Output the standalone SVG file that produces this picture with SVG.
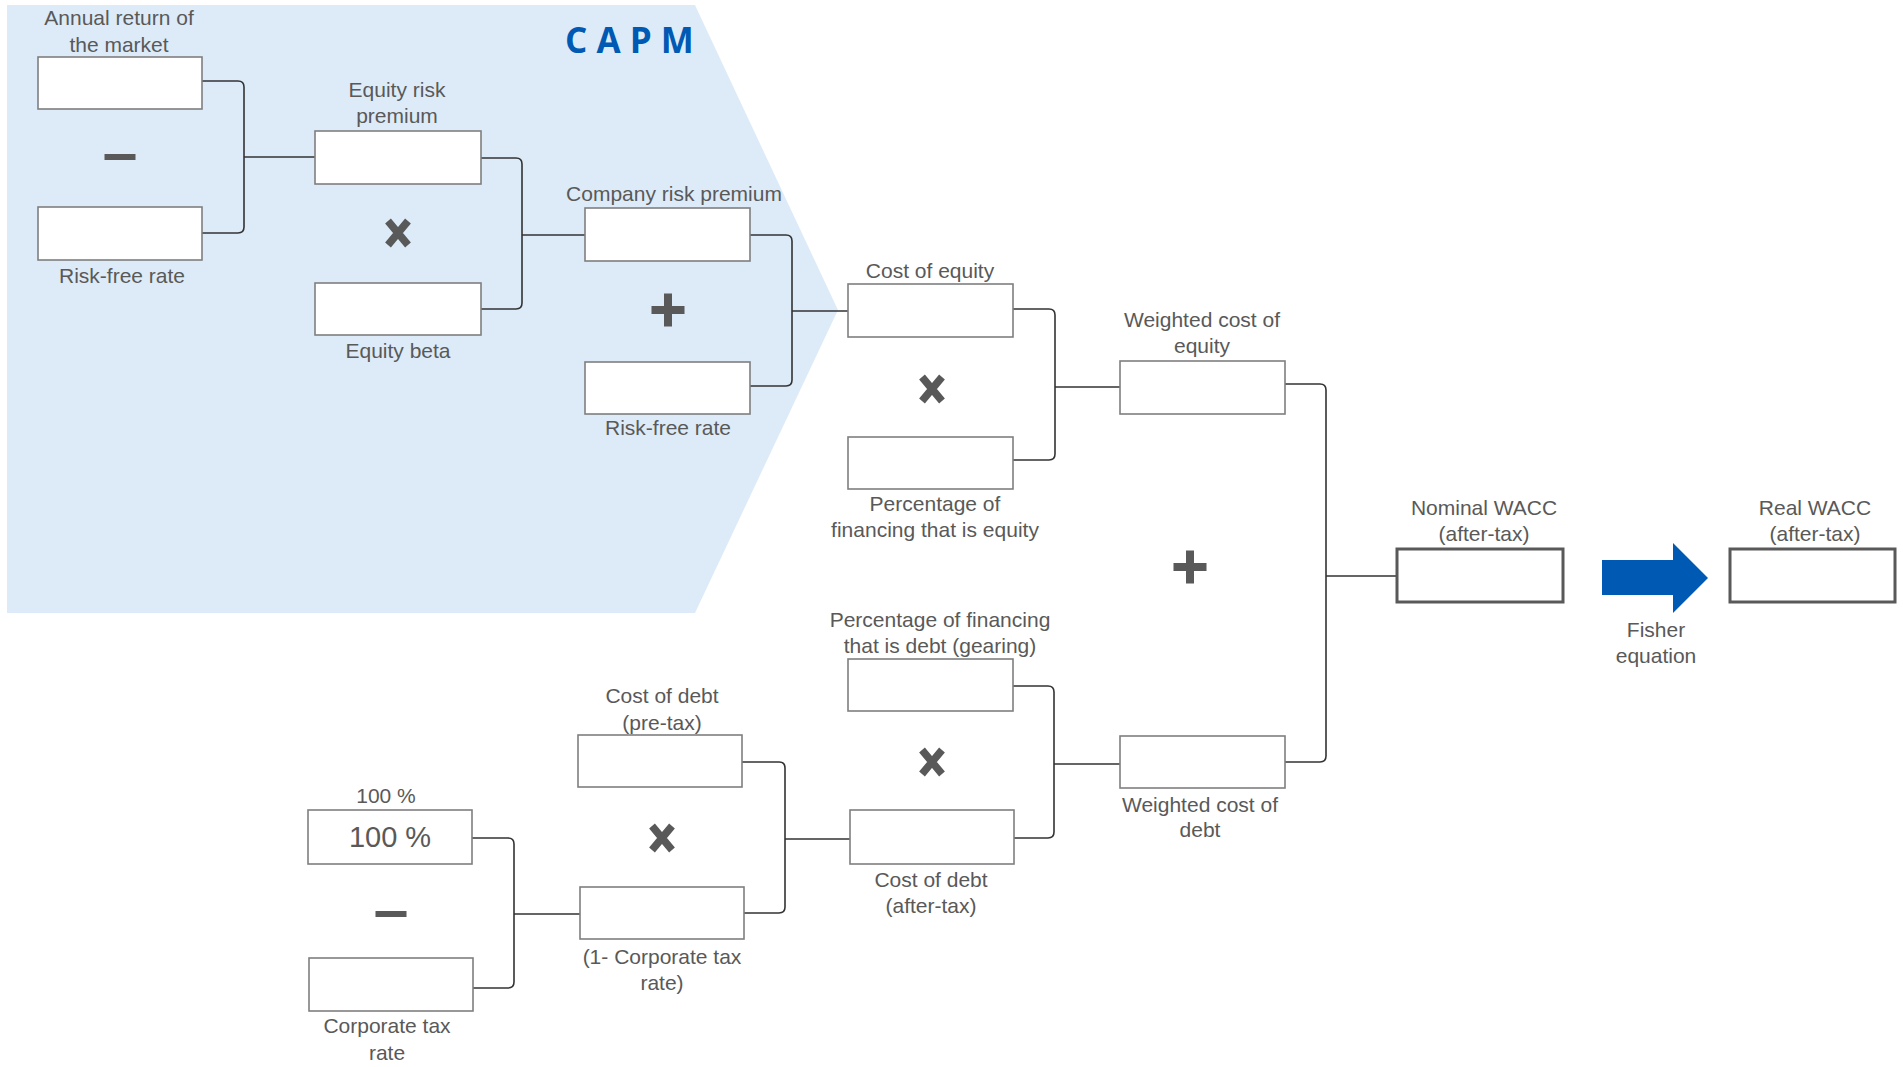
<svg xmlns="http://www.w3.org/2000/svg" width="1903" height="1067" viewBox="0 0 1903 1067">
<style>
.bx{fill:#fff;stroke:#7f7f7f;stroke-width:1.6}
.bxt{fill:#fff;stroke:#595959;stroke-width:3}
.cn{fill:none;stroke:#333;stroke-width:1.6}
.lb{font-family:"Liberation Sans",Arial,sans-serif;font-size:21px;fill:#595959;text-anchor:middle}
.big{font-size:29px}
.op{fill:#595959}
.x{stroke:#595959;stroke-width:7.5;fill:none}
</style>
<defs>
<path id="times" class="x" d="M-10,-12 L10,12 M10,-12 L-10,12"/>
<g id="plus" class="op"><rect x="-16.5" y="-4" width="33" height="8"/><rect x="-4" y="-16.5" width="8" height="33"/></g>
<rect id="minus" class="op" x="-15.5" y="-3" width="31" height="6"/>
</defs>
<polygon id="capm-bg" points="7,5 695,5 838,310 695,613 7,613" fill="#ddebf8"/>
<text x="565" y="53" font-family="'Open Sans','Liberation Sans',sans-serif" font-size="35" font-weight="bold" fill="#0059b2">C A P M</text>

<g id="connectors">
<path class="cn" d="M202,81 L238,81 Q244,81 244,87 L244,227 Q244,233 238,233 L202,233 M244,157 L315,157"/>
<path class="cn" d="M481,158 L516,158 Q522,158 522,164 L522,303 Q522,309 516,309 L481,309 M522,235 L585,235"/>
<path class="cn" d="M750,235 L786,235 Q792,235 792,241 L792,380 Q792,386 786,386 L750,386 M792,311 L848,311"/>
<path class="cn" d="M1013,309 L1049,309 Q1055,309 1055,315 L1055,454 Q1055,460 1049,460 L1013,460 M1055,387 L1120,387"/>
<path class="cn" d="M1285,384 L1320,384 Q1326,384 1326,390 L1326,756 Q1326,762 1320,762 L1285,762 M1326,576 L1397,576"/>
<path class="cn" d="M1013,686 L1048,686 Q1054,686 1054,692 L1054,832 Q1054,838 1048,838 L1014,838 M1054,764 L1120,764"/>
<path class="cn" d="M742,762 L779,762 Q785,762 785,768 L785,907 Q785,913 779,913 L744,913 M785,839 L850,839"/>
<path class="cn" d="M472,838 L508,838 Q514,838 514,844 L514,982 Q514,988 508,988 L473,988 M514,914 L580,914"/>
</g>

<g id="annual-return"><rect class="bx" x="38" y="57" width="164" height="52"/><text class="lb" x="119" y="25">Annual return of</text><text class="lb" x="119" y="52">the market</text></g>
<g id="risk-free-1"><rect class="bx" x="38" y="207" width="164" height="53"/><text class="lb" x="122" y="283">Risk-free rate</text></g>
<g id="equity-risk-premium"><rect class="bx" x="315" y="131" width="166" height="53"/><text class="lb" x="397" y="97">Equity risk</text><text class="lb" x="397" y="123">premium</text></g>
<g id="equity-beta"><rect class="bx" x="315" y="283" width="166" height="52"/><text class="lb" x="398" y="358">Equity beta</text></g>
<g id="company-risk-premium"><rect class="bx" x="585" y="208" width="165" height="53"/><text class="lb" x="674" y="201">Company risk premium</text></g>
<g id="risk-free-2"><rect class="bx" x="585" y="362" width="165" height="52"/><text class="lb" x="668" y="435">Risk-free rate</text></g>
<g id="cost-of-equity"><rect class="bx" x="848" y="284" width="165" height="53"/><text class="lb" x="930" y="278">Cost of equity</text></g>
<g id="pct-equity"><rect class="bx" x="848" y="437" width="165" height="52"/><text class="lb" x="935" y="511">Percentage of</text><text class="lb" x="935" y="537">financing that is equity</text></g>
<g id="weighted-equity"><rect class="bx" x="1120" y="361" width="165" height="53"/><text class="lb" x="1202" y="327">Weighted cost of</text><text class="lb" x="1202" y="353">equity</text></g>
<g id="nominal-wacc"><rect class="bxt" x="1397" y="549" width="166" height="53"/><text class="lb" x="1484" y="515">Nominal WACC</text><text class="lb" x="1484" y="541">(after-tax)</text></g>
<g id="fisher"><polygon points="1602,560 1673,560 1673,543 1708,578 1673,613 1673,595 1602,595" fill="#0059b2"/><text class="lb" x="1656" y="637">Fisher</text><text class="lb" x="1656" y="663">equation</text></g>
<g id="real-wacc"><rect class="bxt" x="1730" y="549" width="165" height="53"/><text class="lb" x="1815" y="515">Real WACC</text><text class="lb" x="1815" y="541">(after-tax)</text></g>
<g id="pct-debt"><rect class="bx" x="848" y="659" width="165" height="52"/><text class="lb" x="940" y="627">Percentage of financing</text><text class="lb" x="940" y="653">that is debt (gearing)</text></g>
<g id="cost-debt-after"><rect class="bx" x="850" y="810" width="164" height="54"/><text class="lb" x="931" y="887">Cost of debt</text><text class="lb" x="931" y="913">(after-tax)</text></g>
<g id="weighted-debt"><rect class="bx" x="1120" y="736" width="165" height="52"/><text class="lb" x="1200" y="812">Weighted cost of</text><text class="lb" x="1200" y="837">debt</text></g>
<g id="cost-debt-pre"><rect class="bx" x="578" y="735" width="164" height="52"/><text class="lb" x="662" y="703">Cost of debt</text><text class="lb" x="662" y="730">(pre-tax)</text></g>
<g id="one-minus-tax"><rect class="bx" x="580" y="887" width="164" height="52"/><text class="lb" x="662" y="964">(1- Corporate tax</text><text class="lb" x="662" y="990">rate)</text></g>
<g id="hundred"><rect class="bx" x="308" y="810" width="164" height="54"/><text class="lb" x="386" y="803">100 %</text><text class="lb big" x="390" y="847">100 %</text></g>
<g id="corp-tax"><rect class="bx" x="309" y="958" width="164" height="53"/><text class="lb" x="387" y="1033">Corporate tax</text><text class="lb" x="387" y="1060">rate</text></g>

<use href="#minus" x="120" y="157"/>
<use href="#minus" x="391" y="914"/>
<use href="#times" x="398" y="233"/>
<use href="#times" x="932" y="389"/>
<use href="#times" x="662" y="838"/>
<use href="#times" x="932" y="762"/>
<use href="#plus" x="668" y="310"/>
<use href="#plus" x="1190" y="567"/>
</svg>
